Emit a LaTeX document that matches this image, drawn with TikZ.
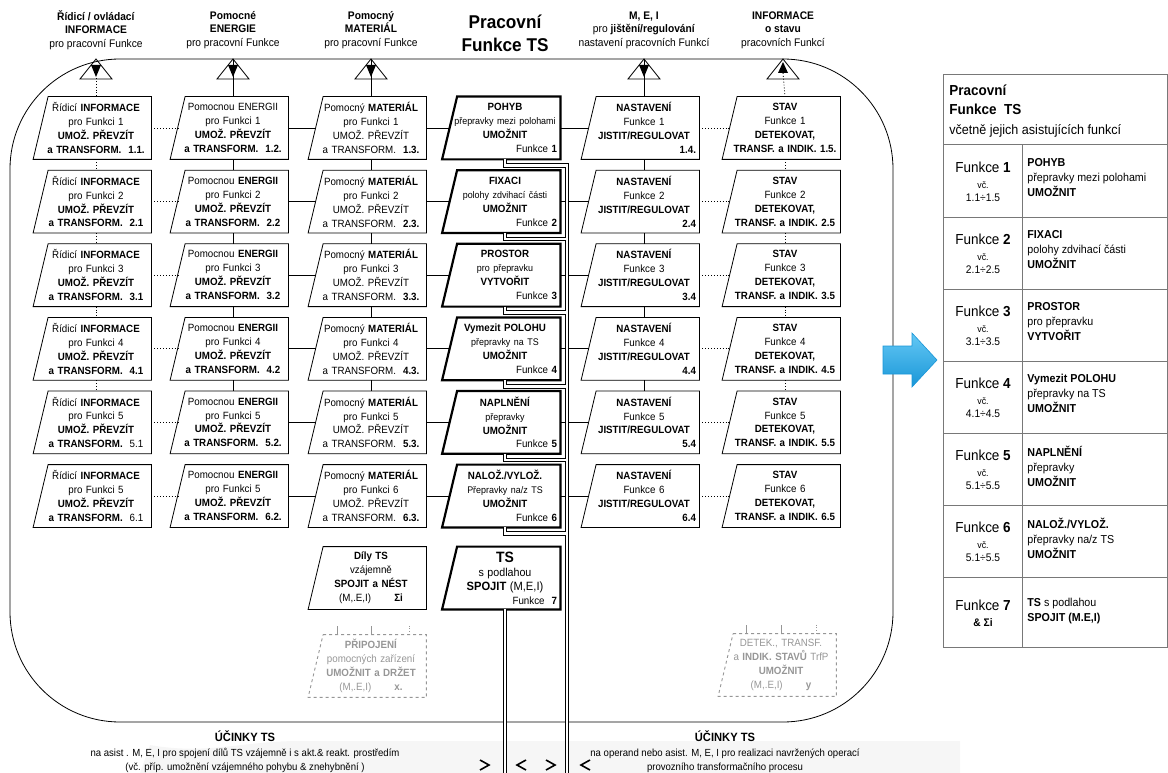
\documentclass[tikz,border=0pt]{standalone}
\usepackage{fontspec}
\setmainfont{Liberation Sans}[FakeStretch=0.93]
\usetikzlibrary{calc,positioning}

\definecolor{ghostgray}{RGB}{150,150,150}
\definecolor{tablegray}{RGB}{120,120,120}
\definecolor{arrowtop}{RGB}{100,200,245}
\definecolor{arrowbot}{RGB}{25,150,215}

% slanted box: a named node, drawn as a parallelogram round it
\newcommand{\SlBox}[4]{%
  \node[boxtext] (#1) at (#3) {#4};
  \draw[#2] ($(#1.north west)+(7.5,0)$) -- (#1.north east)
  -- (#1.south east) -- ($(#1.south west)+(-7.5,0)$) -- cycle; }
% port on the frame, arrow in (down) or out (up)
\newcommand{\PortIn}[2]{%
  \coordinate (#1) at (#2,59);
  \draw (#1) -- ++(-16,20) -- ++(32,0) -- cycle;
  \fill (#1) ++(-5,6) -- ++(10,0) -- ++(-5,12) -- cycle; }
\newcommand{\PortOut}[2]{%
  \coordinate (#1) at (#2,59);
  \draw (#1) -- ++(-16,20) -- ++(32,0) -- cycle;
  \fill (#1) ++(0,3) -- ++(-5,11) -- ++(10,0) -- cycle; }

\begin{document}
\begin{tikzpicture}[x=1pt,y=-1pt,line width=0.8pt,
  boxtext/.style={minimum width=110pt,minimum height=62pt,inner sep=0pt,
    text width=104pt,align=center,font=\fontsize{10.5}{13.9}\selectfont},
  thinbox/.style={line width=0.8pt},
  thickbox/.style={line width=2.2pt},
  ghost/.style={dashed,ghostgray,line width=0.9pt},
  link/.style={line width=0.8pt},
  dotlink/.style={dotted,line width=0.9pt},
  hdr/.style={align=center,inner sep=0pt,font=\fontsize{11}{13.6}\selectfont},
  ttext/.style={inner sep=0pt,align=left,anchor=north west}]
  \useasboundingbox (0,0) rectangle (1168,773);

  \pgfmathsetmacro{\xInf}{96}
  \pgfmathsetmacro{\xEne}{233}
  \pgfmathsetmacro{\xMat}{371}
  \pgfmathsetmacro{\xFun}{505}
  \pgfmathsetmacro{\xNas}{644}
  \pgfmathsetmacro{\xSta}{785}

  % bottom band
  \fill[gray!7] (150,745) to[out=-10,in=180] (300,741) -- (960,741) -- (960,773) -- (140,773) -- cycle;

  % headers
  \node[hdr] (hinf) at (\xInf,30) {\textbf{Řídicí / ovládací}\\\textbf{INFORMACE}\\pro pracovní Funkce};
  \node[hdr] (hene) at (\xEne,30) {\textbf{Pomocné}\\\textbf{ENERGIE}\\pro pracovní Funkce};
  \node[hdr] (hmat) at (\xMat,30) {\textbf{Pomocný}\\\textbf{MATERIÁL}\\pro pracovní Funkce};
  \node[hdr,font=\fontsize{18.5}{23}\selectfont\bfseries] (hfun) at (\xFun,33) {Pracovní\\Funkce TS};
  \node[hdr] (hnas) at (\xNas,30) {\textbf{M, E, I}\\pro \textbf{jištění/regulování}\\nastavení pracovních Funkcí};
  \node[hdr] (hsta) at (783,30) {\textbf{INFORMACE}\\\textbf{o stavu}\\pracovních Funkcí};

  % frame
  \draw[rounded corners=110pt] (10,59) rectangle (893,722);

  % six rows of boxes
  \foreach \r/\f/\lab in {1/1/\textbf{1.1.},2/2/\textbf{2.1},3/3/\textbf{3.1},
      4/4/\textbf{4.1},5/5/5.1,6/5/6.1}{
    \pgfmathsetmacro{\yy}{128+73.6*(\r-1)}
    \SlBox{inf\r}{thinbox}{\xInf,\yy}{Řídicí \textbf{INFORMACE}\\pro Funkci \f\\
      \textbf{UMOŽ. PŘEVZÍT}\\\textbf{a TRANSFORM.}\ \ \lab}
  }
  \foreach \r/\f/\en/\lab in {1/1/ENERGII/\textbf{1.2.},2/2/\textbf{ENERGII}/\textbf{2.2},
      3/3/\textbf{ENERGII}/\textbf{3.2},4/4/\textbf{ENERGII}/\textbf{4.2},
      5/5/\textbf{ENERGII}/\textbf{5.2.},6/5/\textbf{ENERGII}/\textbf{6.2.}}{
    \pgfmathsetmacro{\yy}{128+73.6*(\r-1)}
    \SlBox{ene\r}{thinbox}{\xEne,\yy}{Pomocnou \en\\pro Funkci \f\\
      \textbf{UMOŽ. PŘEVZÍT}\\\textbf{a TRANSFORM.}\ \ \lab}
  }
  \foreach \r/\lab in {1/1.3.,2/2.3.,3/3.3.,4/4.3.,5/5.3.,6/6.3.}{
    \pgfmathsetmacro{\yy}{128+73.6*(\r-1)}
    \SlBox{mat\r}{thinbox}{\xMat,\yy}{Pomocný \textbf{MATERIÁL}\\pro Funkci \r\\
      UMOŽ. PŘEVZÍT\\a TRANSFORM.\ \ \textbf{\lab}}
  }
  \foreach \r/\ttl/\sub/\act in {1/POHYB/přepravky mezi polohami/UMOŽNIT,
      2/FIXACI/polohy zdvihací části/UMOŽNIT,3/PROSTOR/pro přepravku/VYTVOŘIT,
      4/Vymezit POLOHU/přepravky na TS/UMOŽNIT,5/NAPLNĚNÍ/přepravky/UMOŽNIT,
      6/{NALOŽ./VYLOŽ.}/{Přepravky na/z TS}/UMOŽNIT}{
    \pgfmathsetmacro{\yy}{128+73.6*(\r-1)}
    \SlBox{fun\r}{thickbox}{\xFun,\yy}{\textbf{\ttl}\\{\fontsize{9.6}{13.9}\selectfont\sub}\\
      \textbf{\act}\\\hspace*{\fill}Funkce \textbf{\r}}
  }
  \foreach \r/\lab in {1/1.4.,2/2.4,3/3.4,4/4.4,5/5.4,6/6.4}{
    \pgfmathsetmacro{\yy}{128+73.6*(\r-1)}
    \SlBox{nas\r}{thinbox}{\xNas,\yy}{\textbf{NASTAVENÍ}\\Funkce \r\\
      \textbf{JISTIT/REGULOVAT}\\\hspace*{\fill}\textbf{\lab}}
  }
  \foreach \r/\lab in {1/1.5.,2/2.5,3/3.5,4/4.5,5/5.5,6/6.5}{
    \pgfmathsetmacro{\yy}{128+73.6*(\r-1)}
    \SlBox{sta\r}{thinbox}{\xSta,\yy}{\textbf{STAV}\\Funkce \r\\
      \textbf{DETEKOVAT,}\\\textbf{TRANSF. a INDIK. \lab}}
  }

  % row 7
  \SlBox{dily}{thinbox}{\xMat,578}{\textbf{Díly TS}\\vzájemně\\\textbf{SPOJIT a NÉST}\\
    (M,.E,I)\hspace{2.2em}\textbf{Σi}}
  \SlBox{fun7}{thickbox}{\xFun,578}{{\fontsize{15}{15}\selectfont\textbf{TS}}\\
    {\fontsize{11.5}{13.9}\selectfont s podlahou}\\
    {\fontsize{12}{13.9}\selectfont\textbf{SPOJIT} (M,E,I)}\\\hspace*{\fill}Funkce\ \ \textbf{7}}

  % dashed boxes
  \SlBox{pri}{ghost}{\xMat,666}{\color{ghostgray}\textbf{PŘIPOJENÍ}\\pomocných zařízení\\
    \textbf{UMOŽNIT a DRŽET}\\(M,.E,I)\hspace{2.2em}\textbf{x.}}
  \SlBox{det}{ghost}{781,665}{\color{ghostgray}DETEK., TRANSF.\\a \textbf{INDIK. STAVŮ} TrfP\\
    \textbf{UMOŽNIT}\\(M,.E,I)\hspace{2.2em}\textbf{y}}
  \foreach \b/\dx in {pri/-34,pri/0,det/-35,det/0}
    \draw[ghostgray,line width=0.9pt] ([xshift=\dx pt]\b.north) -- ++(0,-9);
  \draw[ghostgray,line width=0.9pt,dotted] ([xshift=38pt]pri.north) -- ++(0,-9);
  \draw[ghostgray,line width=0.9pt,dotted] ([xshift=35pt]det.north) -- ++(0,-9);

  % links in rows
  \foreach \r in {1,...,6}{
    \draw[dotlink] (inf\r.east) -- (ene\r.west);
    \draw[link] (ene\r.east) -- (mat\r.west);
    \draw[link] (mat\r.east) -- (fun\r.west);
    \draw[link] (fun\r.east) -- (nas\r.west);
    \draw[dotlink] (nas\r.east) -- (sta\r.west);
  }
  % links in columns
  \foreach \r [count=\s from 2] in {1,...,4}{
    \draw[dotlink] (inf\r.south) -- (inf\s.north);
    \draw[link] (ene\r.south) -- (ene\s.north);
    \draw[link] (mat\r.south) -- (mat\s.north);
    \draw[link] (nas\r.south) -- (nas\s.north);
    \draw[dotlink] (sta\r.south) -- (sta\s.north);
  }

  % ports on the frame
  \PortIn{pinf}{\xInf}
  \PortIn{pene}{\xEne}
  \PortIn{pmat}{\xMat}
  \PortIn{pnas}{\xNas}
  \PortOut{psta}{783}
  \draw[dotlink] (pinf) ++(0,19) -- (inf1.north);
  \draw[link] (pene) -- (ene1.north);
  \draw[link] (pmat) -- (mat1.north);
  \draw[link] (pnas) -- (nas1.north);
  \draw[dotlink] (psta) ++(0,14) -- (sta1.north);

  % double lines: outline first, then the white core
  \coordinate (trunk) at (567,773);
  \foreach \lw/\col in {4.6/black,2.6/white}{
    \foreach \r in {1,...,6}
      \draw[line width=\lw pt,\col] (fun\r.south) -- ++(0,6) -| (trunk);
    \draw[line width=\lw pt,\col] (fun7.south) -- (fun7.south |- trunk);
  }
  % chevrons at the bottom
  \foreach \xa/\dd in {480/1,526/-1,546/1,590/-1}
    \draw[line width=1.6pt] (\xa,760) -- ++(\dd*9,5) -- ++(-\dd*9,5);

  % effects
  \node[hdr,font=\fontsize{10.3}{14.5}\selectfont] (eff1) at (245,752)
    {{\fontsize{12}{14.5}\selectfont\textbf{ÚČINKY TS}}\\na asist . M, E, I pro spojení dílů TS vzájemně i s akt.\& reakt. prostředím\\(vč. příp. umožnění vzájemného pohybu \& znehybnění )};
  \node[hdr,font=\fontsize{10.3}{14.5}\selectfont] (eff2) at (725,752)
    {{\fontsize{12}{14.5}\selectfont\textbf{ÚČINKY TS}}\\na operand nebo asist. M, E, I pro realizaci navržených operací\\provozního transformačního procesu};

  % arrow to the table
  \shade[top color=arrowtop,bottom color=arrowbot,draw=arrowbot,line width=0.6pt]
    (883,346) -- (912,346) -- (912,333) -- (937,360) -- (912,387) -- (912,374) -- (883,374) -- cycle;

  % table
  \draw[tablegray,line width=1pt] (943,75) rectangle (1167,647);
  \foreach \yl in {145,217,289,361,433,505,577}
    \draw[tablegray,line width=1pt] (943,\yl) -- (1167,\yl);
  \draw[tablegray,line width=1pt] (1022,145) -- (1022,647);
  \node[ttext,font=\fontsize{14.5}{19.5}\selectfont\bfseries] (thead) at (949,84)
    {Pracovní\\Funkce\ \ TS};
  \node[ttext,font=\fontsize{13.5}{16}\selectfont] (tsub) at (949,124) {včetně jejich asistujících funkcí};
  \foreach \r/\ttl/\sub/\act/\rng in {1/POHYB/přepravky mezi polohami/UMOŽNIT/1.1÷1.5,
      2/FIXACI/polohy zdvihací části/UMOŽNIT/2.1÷2.5,3/PROSTOR/pro přepravku/VYTVOŘIT/3.1÷3.5,
      4/Vymezit POLOHU/přepravky na TS/UMOŽNIT/4.1÷4.5,5/NAPLNĚNÍ/přepravky/UMOŽNIT/5.1÷5.5,
      6/{NALOŽ./VYLOŽ.}/{přepravky na/z TS}/UMOŽNIT/5.1÷5.5}{
    \pgfmathsetmacro{\yt}{145+72*(\r-1)}
    \node[font=\fontsize{14.5}{16}\selectfont] (tf\r) at (983,\yt+22) {Funkce \textbf{\r}};
    \node[font=\fontsize{9.5}{11}\selectfont,inner sep=0pt] (tv\r) at (983,\yt+40) {vč.};
    \node[font=\fontsize{11}{13}\selectfont,inner sep=0pt] (tr\r) at (983,\yt+53) {\rng};
    \node[ttext,font=\fontsize{11.5}{15}\selectfont] (td\r) at (1027,\yt+13) {\textbf{\ttl}\\\sub\\\textbf{\act}};
  }
  \node[font=\fontsize{14.5}{16}\selectfont] (tf7) at (983,605) {Funkce \textbf{7}};
  \node[font=\fontsize{11}{13}\selectfont\bfseries,inner sep=0pt] (ts7) at (983,623) {\& Σi};
  \node[ttext,font=\fontsize{11.5}{15}\selectfont] (td7) at (1027,598) {\textbf{TS} s podlahou\\\textbf{SPOJIT (M.E,I)}};
\end{tikzpicture}
\end{document}
